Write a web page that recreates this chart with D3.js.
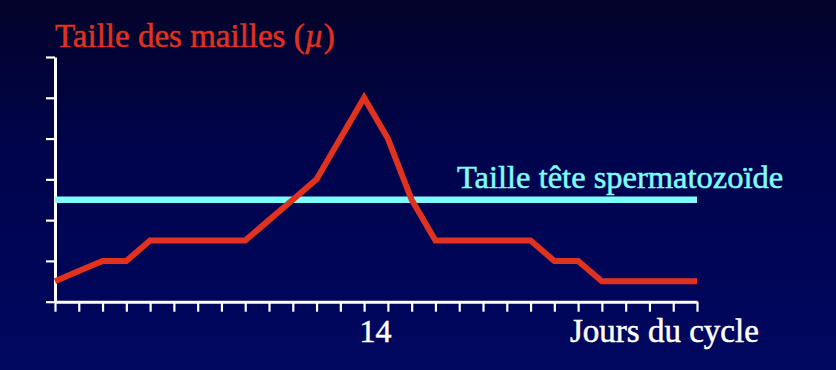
<!DOCTYPE html>
<html>
<head>
<meta charset="utf-8">
<script src="https://cdn.jsdelivr.net/npm/d3@7"></script>
<style>
  body { margin: 0; background: #000; }
  svg { display: block; }
  svg text { font-family: "Liberation Serif", "DejaVu Serif", serif; }
</style>
</head>
<body>
<svg width="836" height="370"></svg>
<script>
// jours du cycle (1 -> 28) et taille des mailles (unites arbitraires)
var days = d3.range(1, 29);
var mesh = [0.5, 0.75, 1, 1, 1.5, 1.5, 1.5, 1.5, 1.5, 2, 2.5, 3, 4, 5,
            4, 2.5, 1.5, 1.5, 1.5, 1.5, 1.5, 1, 1, 0.5, 0.5, 0.5, 0.5, 0.5];
var spermHead = 2.5;
var yTicks = [0, 1, 2, 3, 4, 5, 6];
var xLabels = {14: "14"};

var serif = "'Liberation Serif', 'DejaVu Serif', serif";

var svg = d3.select("svg"),
    width = +svg.attr("width"),
    height = +svg.attr("height");

var defs = svg.append("defs");
var grad = defs.append("linearGradient")
    .attr("id", "bg")
    .attr("x1", 0).attr("y1", 0).attr("x2", 0).attr("y2", 1);
grad.append("stop").attr("offset", "0%").attr("stop-color", "#03032a");
grad.append("stop").attr("offset", "45%").attr("stop-color", "#00044e");
grad.append("stop").attr("offset", "100%").attr("stop-color", "#00075f");

svg.append("rect")
    .attr("width", width)
    .attr("height", height)
    .attr("fill", "url(#bg)");

var x = d3.scaleLinear()
    .domain([1, 28])
    .range([55, 697]);

var y = d3.scaleLinear()
    .domain([0, 6])
    .range([301.7, 57]);

// axes
var yAxis = svg.append("g")
    .attr("transform", "translate(" + x(1) + ",0)")
    .call(d3.axisLeft(y).tickValues(yTicks).tickSize(9).tickSizeOuter(0).tickFormat(""));

var xAxis = svg.append("g")
    .attr("transform", "translate(0," + y(0) + ")")
    .call(d3.axisBottom(x).tickValues(days).tickSize(10).tickSizeOuter(0).tickFormat(""));

svg.selectAll(".domain")
    .attr("stroke", "#fff")
    .attr("stroke-width", 3);
svg.selectAll(".tick line")
    .attr("stroke", "#fff")
    .attr("stroke-width", 2.2);

// label "14"
xAxis.selectAll(".tick")
  .filter(function(d) { return xLabels[d]; })
  .append("text")
    .attr("x", 11)
    .attr("y", 40)
    .attr("text-anchor", "middle")
    .attr("font-family", serif)
    .attr("font-size", 32)
    .attr("fill", "#fff")
    .attr("stroke", "#fff")
    .attr("stroke-width", 0.5)
    .text(function(d) { return xLabels[d]; });

// ligne taille tete spermatozoide
svg.append("line")
    .attr("x1", x(1))
    .attr("x2", x(28))
    .attr("y1", y(spermHead))
    .attr("y2", y(spermHead))
    .attr("stroke", "#80fcfc")
    .attr("stroke-width", 6.5);

// courbe taille des mailles
var line = d3.line()
    .x(function(d, i) { return x(days[i]); })
    .y(function(d) { return y(d); });

svg.append("path")
    .datum(mesh)
    .attr("d", line)
    .attr("fill", "none")
    .attr("stroke", "#e0321e")
    .attr("stroke-width", 6)
    .attr("stroke-linejoin", "miter");

// textes
var title = svg.append("text")
    .attr("x", 55)
    .attr("y", 47)
    .attr("font-family", serif)
    .attr("font-size", 33)
    .attr("fill", "#e0321e")
    .attr("stroke", "#e0321e")
    .attr("stroke-width", 0.5);
title.append("tspan").text("Taille des mailles (");
title.append("tspan").style("font-style", "italic").text("\u00b5");
title.append("tspan").text(")");

svg.append("text")
    .attr("x", 457)
    .attr("y", 188)
    .attr("font-family", serif)
    .attr("font-size", 32.5)
    .attr("fill", "#80fcfc")
    .attr("stroke", "#80fcfc")
    .attr("stroke-width", 0.5)
    .text("Taille t\u00eate spermatozo\u00efde");

svg.append("text")
    .attr("x", 570)
    .attr("y", 342)
    .attr("font-family", serif)
    .attr("font-size", 33)
    .attr("fill", "#fff")
    .attr("stroke", "#fff")
    .attr("stroke-width", 0.5)
    .text("Jours du cycle");
</script>
</body>
</html>
